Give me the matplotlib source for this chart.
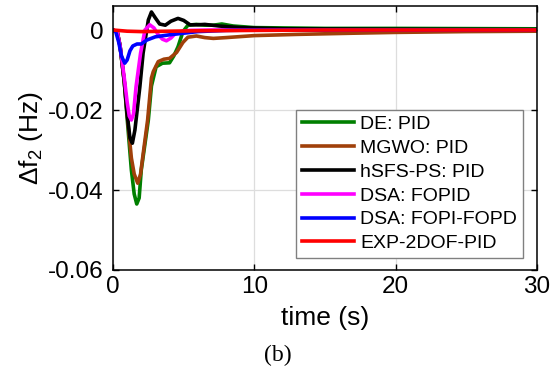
import matplotlib.pyplot as plt

# tiempo (s) y desviacion de frecuencia (Hz)
t_de = [0, 0.3, 0.5, 0.8, 1.0, 1.3, 1.5, 1.68, 1.85, 2.0, 2.2, 2.5, 2.72, 3.05, 3.5, 4.0, 4.3, 4.6, 4.95, 5.3,
        5.9, 6.5, 7.1, 7.7, 8.5, 10, 15, 20, 30]
v_de = [0, -0.0005, -0.004, -0.013, -0.022, -0.035, -0.041, -0.0435, -0.042, -0.035, -0.030, -0.0225, -0.014,
        -0.0092, -0.0083, -0.0082, -0.0065, -0.0042, -0.0004, 0.0012, 0.0014, 0.0012, 0.0012, 0.0015, 0.001,
        0.0006, 0.0004, 0.0004, 0.0003]

t_mgwo = [0, 0.3, 0.5, 0.8, 1.0, 1.3, 1.5, 1.75, 1.95, 2.14, 2.45, 2.72, 2.85, 3.2, 3.6, 4.0, 4.5, 4.95, 5.3,
          5.9, 6.5, 7.1, 8, 10, 13, 17, 20, 25, 30]
v_mgwo = [0, -0.0005, -0.004, -0.013, -0.021, -0.032, -0.036, -0.0383, -0.036, -0.0308, -0.0225, -0.012,
          -0.0104, -0.0079, -0.0073, -0.0071, -0.0056, -0.0031, -0.0018, -0.0015, -0.0019, -0.0021, -0.0019,
          -0.0014, -0.0011, -0.0008, -0.0006, -0.0004, -0.0003]

t_hsfs = [0, 0.3, 0.5, 0.8, 1.0, 1.2, 1.37, 1.55, 1.9, 2.13, 2.5, 2.72, 3.0, 3.3, 3.7, 4.1, 4.6, 5.0, 5.45,
          6.0, 6.5, 7.5, 9, 12, 20, 30]
v_hsfs = [0, -0.0005, -0.004, -0.013, -0.021, -0.027, -0.0283, -0.025, -0.0142, -0.0058, 0.0025, 0.0045,
          0.003, 0.0015, 0.0012, 0.0022, 0.0029, 0.0024, 0.0013, 0.0013, 0.0014, 0.001, 0.0006, 0.0003, 0.0002,
          0.0001]

t_fopid = [0, 0.3, 0.5, 0.8, 1.0, 1.15, 1.3, 1.45, 1.63, 1.95, 2.26, 2.6, 2.9, 3.2, 3.5, 3.78, 4.1, 4.4, 4.9,
           5.5, 7, 30]
v_fopid = [0, -0.0005, -0.004, -0.012, -0.018, -0.0215, -0.0225, -0.021, -0.0142, -0.0058, 0.0, 0.0013,
           0.0005, -0.0012, -0.0023, -0.0027, -0.002, -0.0009, -0.0003, -0.0001, 0, 0]

t_fopi = [0, 0.2, 0.4, 0.6, 0.83, 1.0, 1.2, 1.4, 1.7, 2.0, 2.4, 3.0, 4.0, 5.0, 6.0, 8.0, 10, 30]
v_fopi = [0, -0.0005, -0.003, -0.0065, -0.0083, -0.0075, -0.0052, -0.004, -0.0035, -0.0035, -0.0025,
          -0.0017, -0.0012, -0.0008, -0.0004, -0.0001, 0, 0]

t_exp = [0, 1, 2, 4, 6, 10, 15, 30]
v_exp = [0, -0.0003, -0.0004, -0.0003, -0.0002, -0.0001, 0, 0]

series = [
    (t_de, v_de, '#007f00', 'DE: PID'),
    (t_mgwo, v_mgwo, '#a0400a', 'MGWO: PID'),
    (t_hsfs, v_hsfs, 'black', 'hSFS-PS: PID'),
    (t_fopid, v_fopid, '#ff00ff', 'DSA: FOPID'),
    (t_fopi, v_fopi, '#0000ff', 'DSA: FOPI-FOPD'),
    (t_exp, v_exp, '#ff0000', 'EXP-2DOF-PID'),
]

plt.rcParams['font.family'] = ['Liberation Sans', 'DejaVu Sans']
plt.rcParams['mathtext.default'] = 'regular'

fig = plt.figure(figsize=(5.51, 3.66), dpi=100)
ax = fig.add_axes([113 / 551, 1 - 270 / 366, 424 / 551, 264 / 366])

for t, v, c, lab in series:
    ax.plot(t, v, color=c, linewidth=2.6, label=lab)

ax.set_xlim(0, 30)
ax.set_ylim(-0.06, 0.006)
ax.set_xticks([0, 10, 20, 30])
ax.set_yticks([-0.06, -0.04, -0.02, 0])
ax.set_yticklabels(['-0.06', '-0.04', '-0.02', '0'])
ax.grid(True, color='#dddddd', linewidth=0.9)
ax.set_axisbelow(True)
ax.tick_params(direction='in', top=True, right=True, length=4, width=1, labelsize=17.5)
ax.tick_params(axis='y', pad=7)
ax.tick_params(axis='x', pad=4)
for s in ax.spines.values():
    s.set_linewidth(1.1)

ax.set_xlabel('time (s)', fontsize=19, labelpad=6)
ax.set_ylabel('Δf$_2$ (Hz)', fontsize=19, labelpad=2)

leg = ax.legend(loc='lower right', bbox_to_anchor=(0.967, 0.045), fontsize=14, frameon=True,
                fancybox=False, borderaxespad=0, handlelength=2.7, handletextpad=0.3,
                labelspacing=0.32, borderpad=0.3)
leg.get_frame().set_edgecolor('#808080')
leg.get_frame().set_linewidth(1.0)
leg.get_frame().set_alpha(1)

fig.text(278 / 551, 1 - 355 / 366, '(b)', fontsize=17, family='Liberation Serif', ha='center', va='center')

fig.savefig('out.png', dpi=100)
